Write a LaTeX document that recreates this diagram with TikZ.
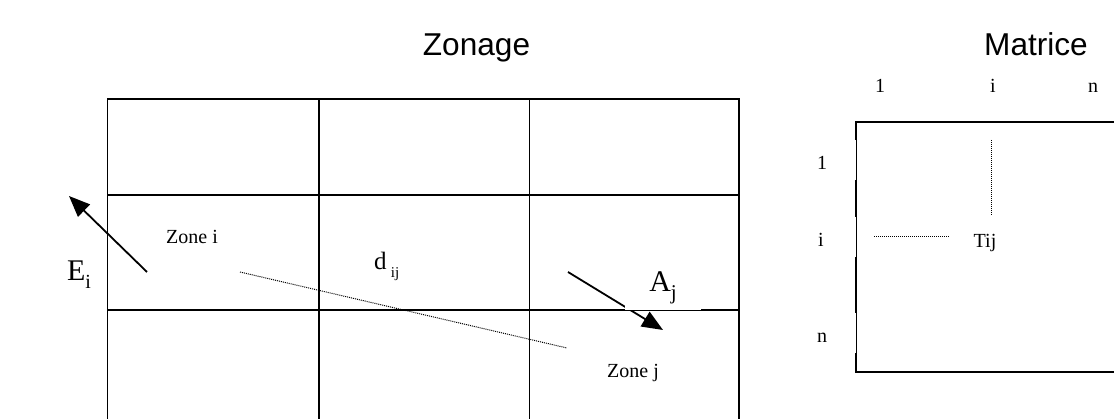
\documentclass[tikz,border=0pt]{standalone}
\usepackage{fontspec}
\setmainfont{Liberation Serif}
\newfontfamily\arialfont{Liberation Sans}
\usetikzlibrary{arrows.meta}

\begin{document}
\begin{tikzpicture}[x=1pt,y=-1pt,
  gridline/.style={line width=1.8pt},
  thinline/.style={line width=0.8pt},
  dotline/.style={line width=1pt,dash pattern=on 1pt off 1pt},
  flowarrow/.style={line width=1.8pt,-{Triangle[length=21pt,width=17pt]}},
  title/.style={font=\arialfont\fontsize{31.6}{36}\selectfont,anchor=base,inner sep=0pt},
  lab/.style={font=\fontsize{20}{24}\selectfont,anchor=base,inner sep=0pt},
  biglab/.style={font=\fontsize{30}{34}\selectfont,anchor=base,inner sep=0pt}]
\useasboundingbox (0,0) rectangle (1114,419);
\clip (0,0) rectangle (1114,419);

% titles
\node[title] (zonage) at (476.5,56) {Zonage};
\node[title] (matrice) at (1036,56) {Matrice};

% zoning grid
\draw[gridline] (107.5,99) rectangle (739,440);
\foreach \x in {319,529.5} \draw[gridline] (\x,99) -- (\x,440);
\foreach \y in {195,310} \draw[gridline] (107.5,\y) -- (739,\y);

\node[lab] (zonei) at (192,244) {Zone i};
\node[lab] (zonej) at (633,378) {Zone j};
\node[font=\fontsize{25}{28}\selectfont,anchor=base west,inner sep=0pt] (dij) at (374,270) {d\,\raisebox{-0.3em}{\fontsize{15}{15}\selectfont ij}};

% distance between zones
\coordinate (dstart) at (240,272);
\coordinate (dend) at (567,348);
\draw[dotline] (dstart) -- (dend);

% emissions and attractions
\coordinate (etail) at (147,272);
\coordinate (etip) at (69,196);
\draw[flowarrow] (etail) -- (etip);
\node[biglab] (ei) at (79,281) {E\raisebox{-0.25em}{\fontsize{20}{20}\selectfont i}};

\coordinate (atail) at (568,272);
\coordinate (atip) at (663,330);
\draw[flowarrow] (atail) -- (atip);
\node[biglab,anchor=south,fill=white,minimum width=76pt,minimum height=52pt,text height=22pt,text depth=6pt] (aj) at (663,310) {A\raisebox{-0.25em}{\fontsize{21}{21}\selectfont j}};

% matrix
\draw[gridline] (1130,122) -- (856,122) -- (856,140);
\draw[gridline] (856,353) -- (856,372) -- (1130,372);
\draw[thinline] (856,122) -- (856,372);
\foreach \a/\b in {180/217,257/313} \draw[gridline] (856,\a) -- (856,\b);

\node[lab] (col1) at (880,93) {1};
\node[lab] (coli) at (993,93) {i};
\node[lab] (coln) at (1093,93) {n};
\node[lab] (row1) at (822,170) {1};
\node[lab] (rowi) at (821,247) {i};
\node[lab] (rown) at (822,343) {n};

\node[lab] (tij) at (985,248) {Tij};
\draw[dotline] (991,140) -- (991,215);
\draw[dotline] (874,237) -- (950,237);
\end{tikzpicture}
\end{document}
